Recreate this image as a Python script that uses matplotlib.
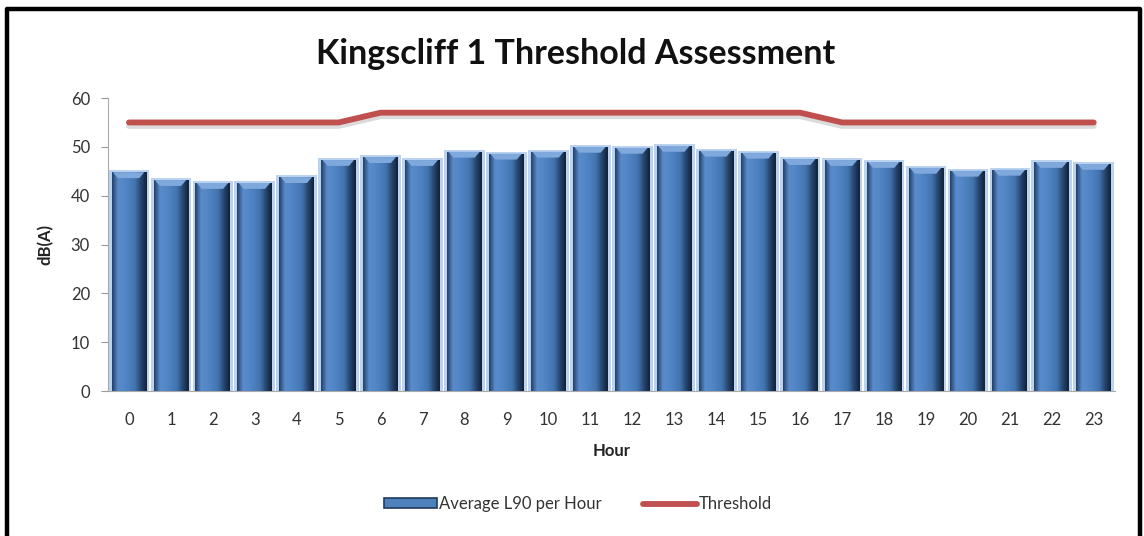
import numpy as np
import matplotlib
matplotlib.use("Agg")
import matplotlib.pyplot as plt
from matplotlib.patches import Polygon, Rectangle
from matplotlib.lines import Line2D
from matplotlib.colors import LinearSegmentedColormap
import matplotlib.patheffects as pe

plt.rcParams["font.family"] = ["Lato", "DejaVu Sans"]

# values
hours = list(range(24))
avg_l90 = [44.8, 43.2, 42.6, 42.6, 43.8, 47.3, 47.9, 47.3, 49.0, 48.6, 49.0, 50.0,
           49.8, 50.2, 49.2, 48.8, 47.5, 47.3, 46.9, 45.7, 45.1, 45.3, 46.9, 46.5]
threshold = [55, 55, 55, 55, 55, 55, 57, 57, 57, 57, 57, 57,
             57, 57, 57, 57, 57, 55, 55, 55, 55, 55, 55, 55]

fig = plt.figure(figsize=(11.44, 5.36), dpi=100)
ax = fig.add_axes([0.0944, 0.2705, 0.880, 0.5466])

x = np.array(hours)
w = 0.83

# glow behind each bar
ax.bar(x, np.array(avg_l90) + 0.4, width=0.97, color="#bcd3ef", zorder=1)
bars = ax.bar(x, avg_l90, width=w, color="#4f81bd", zorder=2)

# horizontal shading for the bevel look: dark edge left, dark right side
shade = LinearSegmentedColormap.from_list(
    "bev", ["#23406a", "#5a8ccc", "#5387c7", "#4c7fbe", "#4173ad", "#27466f", "#122238"])
grad = np.linspace(0, 1, 64).reshape(1, -1)
for b in bars:
    bx, bw, bh = b.get_x(), b.get_width(), b.get_height()
    im = ax.imshow(grad, cmap=shade, aspect="auto", extent=(bx, bx + bw, 0, bh),
                   zorder=3, interpolation="bicubic")
    im.set_clip_path(b)
    # light bevel at the top
    d = 1.2
    ax.add_patch(Polygon([(bx + 0.03, bh), (bx + bw - 0.05, bh),
                          (bx + bw - 0.17, bh - d), (bx + 0.15, bh - d)],
                         closed=True, color="#7fa8dc", zorder=4, lw=0))

ax.plot(x, threshold, color="#c0504d", lw=4.2, solid_capstyle="round", zorder=5,
        path_effects=[pe.SimpleLineShadow(offset=(0, -2.5), shadow_color="#999999", alpha=0.35),
                      pe.Normal()])

ax.set_xlim(-0.5, 23.5)
ax.set_ylim(0, 60)
ax.set_yticks(range(0, 61, 10))
ax.set_xticks(x)
ax.set_xticklabels([str(h) for h in hours])
ax.tick_params(axis="x", length=0, pad=15, labelsize=12, labelcolor="#333333")
ax.tick_params(axis="y", length=5, width=0.8, color="#999999", pad=8,
               labelsize=12, labelcolor="#333333")
for s in ["top", "right"]:
    ax.spines[s].set_visible(False)
ax.spines["left"].set_color("#aaaaaa")
ax.spines["bottom"].set_color("#aaaaaa")

ax.set_xlabel("Hour", fontsize=12, fontweight="bold", color="#222222", labelpad=11)
ax.set_ylabel("dB(A)", fontsize=12, fontweight="bold", color="#222222", labelpad=12)

fig.text(0.503, 0.9, "Kingscliff 1 Threshold Assessment", ha="center", va="center",
         fontsize=24.5, fontweight="bold", color="#111111")

handles = [Rectangle((0, 0), 1, 1, facecolor="#4f81bd", edgecolor="#1f3b5e", lw=1.2),
           Line2D([0], [0], color="#c0504d", lw=4.2, solid_capstyle="round")]
fig.legend(handles, ["Average L90 per Hour", "Threshold"], loc="center",
           bbox_to_anchor=(0.505, 0.06), ncol=2, frameon=False, fontsize=12,
           handlelength=3.2, handleheight=0.5, handletextpad=0.1, columnspacing=2.5,
           labelcolor="#333333")

# outer border (left, top, right)
fig.add_artist(Line2D([0.0062, 0.0062, 0.9965, 0.9965], [-0.1, 0.9835, 0.9835, -0.1],
                      transform=fig.transFigure, color="black", lw=3.2))

fig.savefig("out.png", dpi=100)
